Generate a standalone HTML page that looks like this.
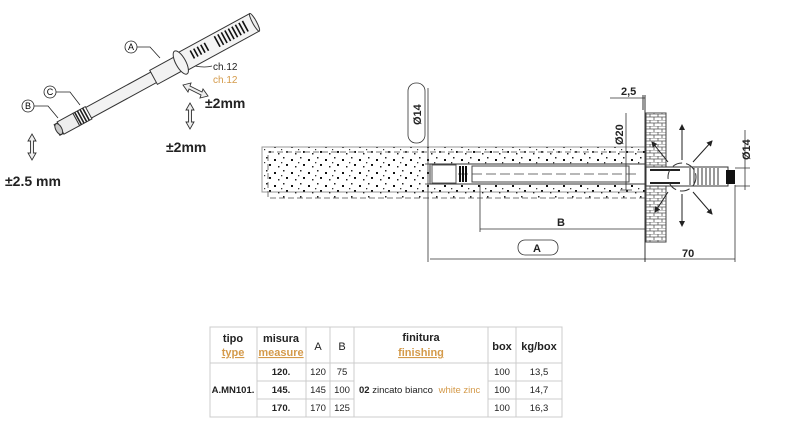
<!DOCTYPE html>
<html><head><meta charset="utf-8"><style>
body{margin:0;background:#fff}
svg{display:block}
text{font-family:"Liberation Sans",sans-serif}
</style></head><body>
<svg width="800" height="427" viewBox="0 0 800 427" xmlns="http://www.w3.org/2000/svg">
<defs>
<pattern id="sp" width="17" height="13" patternUnits="userSpaceOnUse">
<rect x="2" y="3" width="2" height="2" fill="#111"/><rect x="11" y="1" width="1.5" height="1.5" fill="#222"/>
<rect x="14" y="8" width="2" height="1.8" fill="#111"/><rect x="6" y="10" width="1.4" height="1.4" fill="#222"/>
<rect x="9" y="6" width="1.2" height="1.2" fill="#333"/>
</pattern>
<pattern id="br" width="8" height="6" patternUnits="userSpaceOnUse">
<rect width="8" height="6" fill="#fff"/>
<path d="M0 0H8M0 3H8M2 0V3M6 3V6" stroke="#555" stroke-width="0.8"/>
</pattern>
<marker id="ah" markerWidth="6" markerHeight="6" refX="5" refY="3" orient="auto"><path d="M0 0L6 3L0 6z" fill="#222"/></marker>
</defs>

<!-- left product -->
<g transform="translate(57 130) rotate(-28.6)" stroke="#333" stroke-width="1">
<rect x="0" y="-6" width="115" height="12" fill="#f2f2f2"/>
<rect x="4" y="-7" width="18" height="14" fill="#eee"/>
<rect x="22" y="-7" width="14" height="14" fill="#fff"/>
<path d="M24 -7v14M27 -7v14M30 -7v14M33 -7v14" stroke="#222" stroke-width="1.6"/>
<ellipse cx="2" cy="0" rx="3" ry="6" fill="#ccc"/>
<rect x="110" y="-8" width="30" height="16" fill="#f2f2f2"/>
<rect x="140" y="-10" width="85" height="20" fill="#f4f4f4"/>
<ellipse cx="141" cy="0" rx="5" ry="13" fill="#f4f4f4"/>
<ellipse cx="225" cy="0" rx="2" ry="10" fill="#eee"/>
<path d="M155 -6v9M159 -6v9M163 -6v9M167 -6v9M171 -6v9M183 -7v12M187 -7v12M191 -7v12M195 -7v12M199 -7v12M203 -7v12M207 -7v12M211 -7v12M215 -7v12" stroke="#111" stroke-width="1.6"/>
</g>
<g fill="none" stroke="#222" stroke-width="0.8">
<circle cx="131" cy="47" r="6"/><path d="M137 47H150L160 58"/>
<circle cx="50" cy="92" r="6"/><path d="M56 92H70L80 105"/>
<circle cx="28" cy="106" r="6"/><path d="M34 106H48L58 118"/>
</g>
<g font-size="9" text-anchor="middle"><text x="131" y="50">A</text><text x="50" y="95">C</text><text x="28" y="109">B</text></g>
<text x="213" y="70" font-size="10" fill="#222">ch.12</text>
<text x="213" y="83" font-size="10" fill="#d49a4a">ch.12</text>
<path d="M195 66 Q205 68 212 66" fill="none" stroke="#222" stroke-width="0.8"/>
<g fill="#eee" stroke="#333" stroke-width="0.9">
<path d="M183 85l8-2-1 3 12 6 1-3 5 7-8 2 1-3-12-6-1 3z"/>
<path d="M190 103l4 7h-2.5v12h2.5l-4 7-4-7h2.5v-12h-2.5z"/>
<path d="M32 134l4 7h-2.5v12h2.5l-4 7-4-7h2.5v-12h-2.5z"/>
</g>
<text x="205" y="108" font-size="14" font-weight="bold" fill="#222">±2mm</text>
<text x="166" y="152" font-size="14" font-weight="bold" fill="#222">±2mm</text>
<text x="5" y="186" font-size="14" font-weight="bold" fill="#222">±2.5 mm</text>

<!-- concrete -->
<rect x="262" y="147" width="383" height="45" fill="url(#sp)" stroke="#999"/>
<rect x="268" y="152" width="377" height="46" fill="url(#sp)" stroke="#777" stroke-dasharray="6 3"/>
<!-- anchor -->
<rect x="430" y="164" width="215" height="20" fill="#fff" stroke="#333"/>
<rect x="432" y="165" width="24" height="18" fill="#fff" stroke="#555"/>
<rect x="472" y="166" width="157" height="16" fill="#fff" stroke="#444"/>
<path d="M458 174H640" stroke="#444" stroke-dasharray="10 4" stroke-width="0.7"/>
<path d="M460 166v16M463 166v16M466 166v16" stroke="#111" stroke-width="2"/>
<!-- wall -->
<rect x="646" y="113" width="20" height="129" fill="url(#br)" stroke="#444"/>
<path d="M645 95V262M643 95V110" stroke="#333" stroke-width="1"/>
<!-- sleeve -->
<rect x="646" y="167" width="82" height="19" fill="#fff" stroke="#333"/>
<path d="M650 170H680M650 183H680" stroke="#222" stroke-width="2"/>
<path d="M690 168v17M694 168v17M698 168v17M702 168v17M706 168v17M710 168v17M714 168v17M718 168v17" stroke="#333"/>
<rect x="726" y="170" width="9" height="14" fill="#111"/>
<circle cx="682" cy="177" r="14" fill="none" stroke="#333" stroke-dasharray="10 4"/>
<g stroke="#222" stroke-width="1" marker-end="url(#ah)">
<path d="M682 160V125"/><path d="M682 194V226"/><path d="M693 162L712 141"/><path d="M693 192L712 214"/>
<path d="M668 162L652 142"/><path d="M668 192L655 212"/>
</g>
<!-- dims -->
<g stroke="#333" stroke-width="0.8" fill="none">
<path d="M428 88V262"/><path d="M430 259H735"/><path d="M735 185V262"/>
<path d="M480 185V232"/><path d="M480 229H645"/>
<path d="M626 113V190"/><path d="M620 164H632M620 190H632"/>
<path d="M610 98H645"/>
<path d="M745 130V190"/><path d="M735 168H750M735 186H750"/>
<path d="M425 164H432M425 184H432"/>
<rect x="408" y="83" width="17" height="60" rx="8"/>
<rect x="518" y="240" width="40" height="15" rx="7"/>
</g>
<g font-size="11" font-weight="bold" fill="#222">
<text x="621" y="95">2,5</text>
<text x="557" y="226">B</text>
<text x="533" y="252">A</text>
<text x="682" y="257">70</text>
<text transform="translate(421 125) rotate(-90)">Ø14</text>
<text transform="translate(623 145) rotate(-90)">Ø20</text>
<text transform="translate(750 160) rotate(-90)">Ø14</text>
</g>

<!-- table -->
<g stroke="#ccc" stroke-width="1" fill="none">
<rect x="210" y="327" width="352" height="90"/>
<path d="M257 327V417M306 327V417M330 327V417M354 327V417M488 327V417M516 327V417"/>
<path d="M210 363H562M257 381H354M488 381H562M257 399H354M488 399H562"/>
</g>
<g font-size="11" fill="#222" text-anchor="middle">
<text x="233" y="342" font-weight="bold">tipo</text>
<text x="233" y="356" font-weight="bold" fill="#d49a4a" text-decoration="underline">type</text>
<text x="281" y="342" font-weight="bold">misura</text>
<text x="281" y="356" font-weight="bold" fill="#d49a4a" text-decoration="underline">measure</text>
<text x="318" y="350">A</text><text x="342" y="350">B</text>
<text x="421" y="341" font-weight="bold">finitura</text>
<text x="421" y="356" font-weight="bold" fill="#d49a4a" text-decoration="underline">finishing</text>
<text x="502" y="350" font-weight="bold">box</text><text x="539" y="350" font-weight="bold">kg/box</text>
<g font-size="9.5">
<text x="233" y="393" font-weight="bold">A.MN101.</text>
<text x="281" y="375" font-weight="bold">120.</text><text x="281" y="393" font-weight="bold">145.</text><text x="281" y="411" font-weight="bold">170.</text>
<text x="318" y="375">120</text><text x="318" y="393">145</text><text x="318" y="411">170</text>
<text x="342" y="375">75</text><text x="342" y="393">100</text><text x="342" y="411">125</text>
<text x="502" y="375">100</text><text x="502" y="393">100</text><text x="502" y="411">100</text>
<text x="539" y="375">13,5</text><text x="539" y="393">14,7</text><text x="539" y="411">16,3</text>
</g>
<text x="359" y="393" font-size="9.5" text-anchor="start"><tspan font-weight="bold">02</tspan> zincato bianco <tspan fill="#d49a4a" dx="3">white zinc</tspan></text>
</g>
</svg>
</body></html>
